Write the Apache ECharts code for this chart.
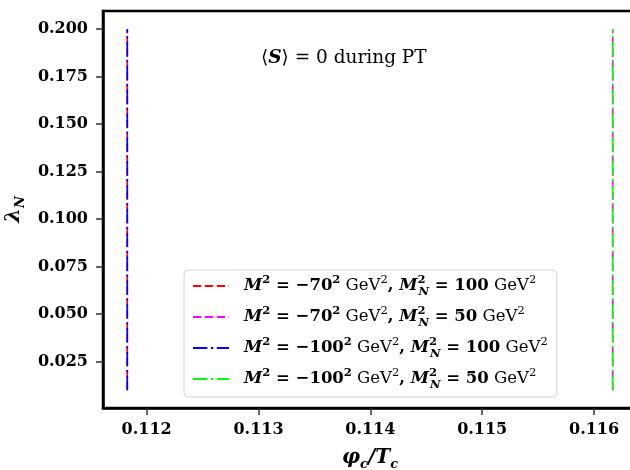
<!DOCTYPE html>
<html><head><meta charset="utf-8">
<script src="https://cdn.jsdelivr.net/npm/echarts@6/dist/echarts.min.js"></script>
<style>html,body{margin:0;padding:0;background:#fff}#c{width:630px;height:470px}</style>
</head><body><div id="c"></div>
<script>
// ---- data ----
const seriesNames = ['r70_100', 'm70_50', 'b100_100', 'g100_50'];
const lambdaN = [0.01, 0.05, 0.10, 0.15, 0.20];
const phiRed     = [0.111827, 0.111827, 0.111827, 0.111827, 0.111827];
const phiMagenta = [0.116167, 0.116167, 0.116167, 0.116167, 0.116167];
const phiBlue    = [0.111827, 0.111827, 0.111827, 0.111827, 0.111827];
const phiGreen   = [0.116167, 0.116167, 0.116167, 0.116167, 0.116167];
const xTicks = [0.112, 0.113, 0.114, 0.115, 0.116];
const yTicks = [0.025, 0.050, 0.075, 0.100, 0.125, 0.150, 0.175, 0.200];

const SERIF = '"DejaVu Serif", "Liberation Serif", serif';
const FS = 16.5;
const SS = 11.5;
const rich = {
  bi: {fontFamily: SERIF, fontWeight: 'bold', fontStyle: 'italic', fontSize: FS, lineHeight: 24, color: '#000'},
  b: {fontFamily: SERIF, fontWeight: 'bold', fontSize: FS, lineHeight: 24, color: '#000'},
  r: {fontFamily: SERIF, fontWeight: 'normal', fontSize: FS, lineHeight: 24, color: '#000'},
  sup: {fontFamily: SERIF, fontWeight: 'bold', fontSize: SS, lineHeight: 10, verticalAlign: 'top', color: '#000'},
  supr: {fontFamily: SERIF, fontWeight: 'normal', fontSize: SS, lineHeight: 10, verticalAlign: 'top', color: '#000'},
  supz: {fontFamily: SERIF, fontWeight: 'bold', fontSize: SS, lineHeight: 10, verticalAlign: 'top', width: 1, color: '#000'},
  sub: {fontFamily: SERIF, fontWeight: 'bold', fontStyle: 'italic', fontSize: SS, lineHeight: 10, verticalAlign: 'bottom', color: '#000'}
};
function lab(m, mn) {
  return '{bi|M}{sup|2}{b| = −' + m + '}{sup|2}{r| GeV}{supr|2}{b|, }{bi|M}{supz|2}{sub|N}{b| = ' + mn + '}{r| GeV}{supr|2}';
}
const legendLabels = {
  r70_100: lab(70, 100),
  m70_50: lab(70, 50),
  b100_100: lab(100, 100),
  g100_50: lab(100, 50)
};

function pairs(xs, ys) { return xs.map((x, i) => [x, ys[i]]); }

const chart = echarts.init(document.getElementById('c'), null, {renderer: 'canvas'});
chart.setOption({
  animation: false,
  backgroundColor: '#fff',
  grid: {left: 103, top: 11, width: 534, height: 397, show: true, borderColor: '#000', borderWidth: 2.5,
         backgroundColor: 'transparent', outerBoundsMode: 'none', containLabel: false},
  title: {
    text: '{a|⟨}{s|S}{a|⟩ = 0 during PT}',
    left: 256, top: 44,
    textStyle: {fontWeight: 'normal', rich: {
      a: {fontFamily: SERIF + ', "DejaVu Sans"', fontWeight: 'normal', fontSize: 18.5, color: '#000'},
      s: {fontFamily: SERIF, fontWeight: 'bold', fontStyle: 'italic', fontSize: 18.5, color: '#000'}
    }}
  },
  legend: {
    orient: 'vertical', left: 184, top: 270,
    padding: [4, 9, 6, 8],
    itemWidth: 36, itemHeight: 14, itemGap: 7,
    backgroundColor: '#fff', borderColor: '#d4d4d4', borderWidth: 1, borderRadius: 4,
    itemStyle: {color: 'transparent', borderColor: 'transparent', borderWidth: 0},
    formatter: n => legendLabels[n],
    textStyle: {rich: rich, padding: [0, 0, 0, 10]}
  },
  xAxis: {
    type: 'value', min: 0.11161, max: 0.116384,
    splitLine: {show: false},
    axisLine: {show: true, lineStyle: {color: '#000', width: 2.5}},
    axisTick: {show: true, length: 7, lineStyle: {color: '#333', width: 1.5}, customValues: xTicks},
    axisLabel: {customValues: xTicks, margin: 14, formatter: v => v.toFixed(3),
      fontFamily: SERIF, fontWeight: 'bold', fontSize: 16, color: '#000'},
    name: '{bi|φ}{sub|c}{bi|/T}{sub|c}', nameLocation: 'middle', nameGap: 37,
    nameTextStyle: {rich: {
      bi: {fontFamily: SERIF, fontWeight: 'bold', fontStyle: 'italic', fontSize: 20, lineHeight: 26, color: '#000'},
      sub: {fontFamily: SERIF, fontWeight: 'bold', fontStyle: 'italic', fontSize: 13, lineHeight: 13, verticalAlign: 'bottom', color: '#000'}
    }}
  },
  yAxis: {
    type: 'value', min: 0.0006, max: 0.2096,
    splitLine: {show: false},
    axisLine: {show: true, lineStyle: {color: '#000', width: 2.5}},
    axisTick: {show: true, length: 7, lineStyle: {color: '#333', width: 1.5}, customValues: yTicks},
    axisLabel: {customValues: yTicks, margin: 15, formatter: v => v.toFixed(3),
      fontFamily: SERIF, fontWeight: 'bold', fontSize: 16, color: '#000'},
    name: '{bi|λ}{sub|N}', nameLocation: 'middle', nameGap: 67,
    nameTextStyle: {rich: {
      bi: {fontFamily: SERIF, fontWeight: 'bold', fontStyle: 'italic', fontSize: 21, lineHeight: 26, color: '#000'},
      sub: {fontFamily: SERIF, fontWeight: 'bold', fontStyle: 'italic', fontSize: 13, lineHeight: 13, verticalAlign: 'bottom', color: '#000'}
    }}
  },
  series: [
    {name: seriesNames[0], type: 'line', symbol: 'none', data: pairs(phiRed, lambdaN),
     lineStyle: {color: '#ff0000', width: 1.7, type: [8.3, 3.6]}, itemStyle: {color: '#ff0000'}},
    {name: seriesNames[1], type: 'line', symbol: 'none', data: pairs(phiMagenta, lambdaN),
     lineStyle: {color: '#ff00ff', width: 1.7, type: [8.3, 3.6]}, itemStyle: {color: '#ff00ff'}},
    {name: seriesNames[2], type: 'line', symbol: 'none', data: pairs(phiBlue, lambdaN),
     lineStyle: {color: '#0000ff', width: 1.7, type: [14.4, 3.6, 2.25, 3.6]}, itemStyle: {color: '#0000ff'}},
    {name: seriesNames[3], type: 'line', symbol: 'none', data: pairs(phiGreen, lambdaN),
     lineStyle: {color: '#00ff00', width: 1.7, type: [14.4, 3.6, 2.25, 3.6]}, itemStyle: {color: '#00ff00'}}
  ]
});
</script>
</body></html>
